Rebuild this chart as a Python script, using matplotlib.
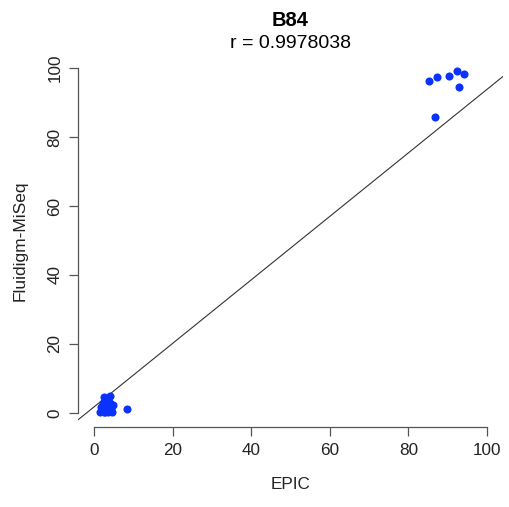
import numpy as np
import matplotlib
matplotlib.use("Agg")
import matplotlib.pyplot as plt

plt.rcParams['font.family'] = ['Liberation Sans', 'DejaVu Sans']

# EPIC vs Fluidigm-MiSeq methylation (%) for sample B84
epic = [1.5, 2.0, 2.5, 3.0, 3.5, 4.5, 2.5, 3.0, 2.2, 2.5, 4.0, 3.5, 4.8, 4.3, 2.0, 8.3, 3.2,
        1.8, 2.8, 3.8, 4.0, 2.3, 3.4,
        85.2, 87.4, 90.4, 92.3, 94.1, 93.0, 86.9]
fluidigm = [0.3, 0.5, 0.2, 0.8, 0.3, 0.2, 1.5, 2.5, 3.0, 4.5, 5.0, 2.0, 2.2, 1.2, 1.0, 1.1, 3.8,
            1.8, 0.4, 0.6, 2.8, 2.2, 1.3,
            96.3, 97.3, 97.6, 99.1, 98.3, 94.5, 85.9]
title = "B84"
r_label = "r = 0.9978038"
xticks = [0, 20, 40, 60, 80, 100]
yticks = [0, 20, 40, 60, 80, 100]

x = np.array(epic)
y = np.array(fluidigm)
# linear fit of EPIC on Fluidigm, drawn as intercept + slope * x
slope, intercept = np.polyfit(y, x, 1)

fig = plt.figure(figsize=(5.09, 5.07), dpi=100)
ax = fig.add_axes([0.1538, 0.1582, 0.8338, 0.7349])
ax.set_xlim(-4, 104)
ax.set_ylim(-4, 104)

ax.scatter(x, y, s=34, color='#0a32ff', linewidths=0, zorder=3)
ax.axline((0, intercept), slope=slope, color='#333333', lw=0.8, zorder=2)

ax.spines['top'].set_visible(False)
ax.spines['right'].set_visible(False)
for s in ('left', 'bottom'):
    ax.spines[s].set_color('#555555')
    ax.spines[s].set_linewidth(0.9)
ax.spines['left'].set_bounds(0, 100)
ax.spines['bottom'].set_bounds(0, 100)

ax.set_xticks(xticks)
ax.set_yticks(yticks)
ax.tick_params(axis='both', length=6.5, width=0.9, color='#555555',
               labelsize=12.3, labelcolor='#222222', pad=5)
ax.set_yticklabels([str(t) for t in yticks], rotation=90, va='center')

ax.set_xlabel("EPIC", fontsize=12.3, color='#222222', labelpad=14)
ax.set_ylabel("Fluidigm-MiSeq", fontsize=12.5, color='#222222', labelpad=14)

fig.text(0.5707, 1 - 20 / 507, title, ha='center', va='center', fontsize=14.5, fontweight='bold')
fig.text(0.5707, 1 - 44 / 507, r_label, ha='center', va='center', fontsize=14)

fig.savefig("out.png", dpi=100)
